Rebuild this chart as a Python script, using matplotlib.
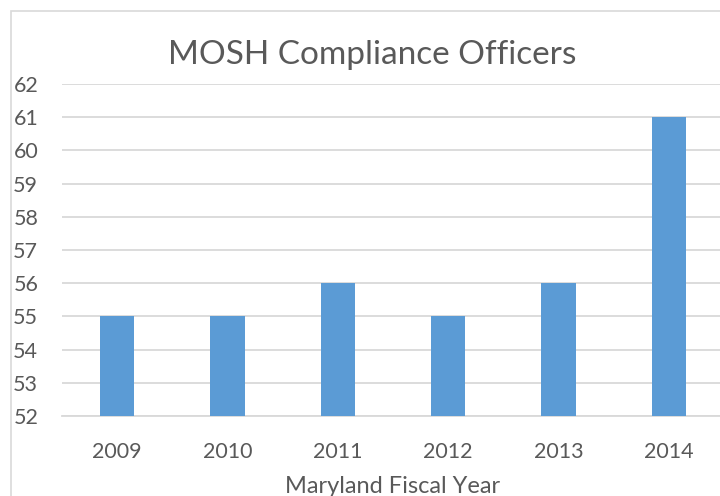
import numpy as np
import matplotlib.pyplot as plt
from matplotlib.patches import Rectangle

years = ['2009', '2010', '2011', '2012', '2013', '2014']
officers = [55, 55, 56, 55, 56, 61]

plt.rcParams['font.family'] = ['Lato', 'DejaVu Sans']
txt = '#595959'
grid = '#d9d9d9'

fig = plt.figure(figsize=(7.2, 4.96), dpi=100)
fig.patches.append(Rectangle((11/720, -0.1), 2, 1.1 - 11/496, transform=fig.transFigure,
                             fill=False, edgecolor=grid, lw=1.2))

ax = fig.add_axes([61.8/720, 1 - 416/496, 662.4/720, 332/496])
ind = np.arange(len(years))
ax.bar(ind, [v - 52 for v in officers], 0.31, bottom=52, color='#5b9bd5', zorder=3)

ax.set_xlim(-0.5, len(years) - 0.5)
ax.set_ylim(52, 62)
ax.set_yticks(range(52, 63))
ax.set_xticks(ind)
ax.set_xticklabels(years)
ax.grid(axis='y', color=grid, lw=1.3, zorder=0)
for s in ax.spines.values():
    s.set_visible(False)
ax.spines['bottom'].set_visible(True)
ax.spines['bottom'].set_color(grid)
ax.spines['bottom'].set_linewidth(1.3)
ax.tick_params(axis='both', length=0, colors=txt, labelsize=15.5)
ax.tick_params(axis='y', pad=17)
ax.tick_params(axis='x', pad=19)
ax.set_xlabel('Maryland Fiscal Year', color=txt, fontsize=17, labelpad=10)

fig.text(372/720, 1 - 55/496, 'MOSH Compliance Officers', ha='center', va='center',
         color=txt, fontsize=24)

fig.savefig('out.png', dpi=100)
